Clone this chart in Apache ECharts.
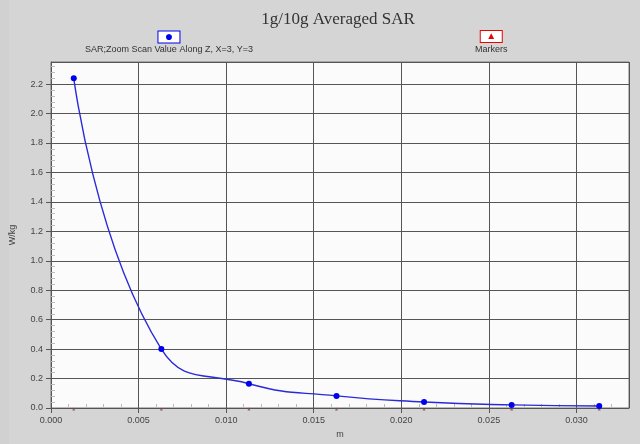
<!DOCTYPE html>
<html><head><meta charset="utf-8">
<style>html,body{margin:0;padding:0;background:#d5d5d5;}#c{width:640px;height:444px;}</style>
<script src="https://cdn.jsdelivr.net/npm/echarts@6/dist/echarts.min.js"></script>
</head><body><div id="c"></div>
<script>
const title = '1g/10g Averaged SAR';
const sarName = 'SAR;Zoom Scan Value Along Z, X=3, Y=3';
const markersName = 'Markers';
const depth = [0.0013, 0.0063, 0.0113, 0.0163, 0.0213, 0.0263, 0.0313];
const sarValues = [2.24, 0.40, 0.165, 0.082, 0.041, 0.021, 0.014];
const markerValues = [0, 0, 0, 0, 0, 0, 0];
const xTicks = [0.000, 0.005, 0.010, 0.015, 0.020, 0.025, 0.030];
const yTicks = [0.0, 0.2, 0.4, 0.6, 0.8, 1.0, 1.2, 1.4, 1.6, 1.8, 2.0, 2.2];
const xName = 'm';
const yName = 'W/kg';

const chart = echarts.init(document.getElementById('c'));
const lab = {fontFamily: 'Liberation Sans, Arial', fontSize: 9, color: '#444'};
function legendFmt(sym, col, size) {
  return {
    formatter: n => '{i|' + sym + '}\n{t|' + n + '}',
    textStyle: {rich: {
      i: {align: 'center', verticalAlign: 'middle', color: col, fontSize: size, width: 21, height: 11, lineHeight: 11,
          borderColor: col, borderWidth: 1, backgroundColor: '#fff', padding: [0, 0, 0, 0]},
      t: {align: 'center', fontFamily: 'Liberation Sans, Arial', fontSize: 9, color: '#333', lineHeight: 15}
    }}
  };
}
const xMin = xTicks[0], xMax = 0.033, yMin = yTicks[0], yMax = 2.35;
chart.setOption({
  backgroundColor: '#d5d5d5',
  animation: false,
  title: {text: title, left: 333, textAlign: 'center', top: 6,
    textStyle: {fontFamily: 'Liberation Serif, Times New Roman', fontSize: 17, fontWeight: 'normal', color: '#333'}},
  legend: [
    Object.assign({data: [sarName], left: 80, top: 30, icon: 'none', itemWidth: 0, itemGap: 0, padding: 0, selectedMode: false}, legendFmt('●', '#0000ee', 14)),
    Object.assign({data: [markersName], left: 470, top: 30, icon: 'none', itemWidth: 0, itemGap: 0, padding: 0, selectedMode: false}, legendFmt('▲', '#ee0000', 10))
  ],
  graphic: [{type: 'rect', left: 0, top: 0, shape: {width: 9, height: 444}, style: {fill: '#d1d1d1'}, z: -1}],
  grid: {left: 51, right: 11, top: 62, bottom: 36, show: true, backgroundColor: '#fbfbfb', borderColor: '#777', borderWidth: 1},
  xAxis: [{
    type: 'value', min: xMin, max: xMax, interval: 0.005,
    name: xName, nameLocation: 'middle', nameGap: 22, nameTextStyle: lab,
    axisLine: {show: true, onZero: false, lineStyle: {color: '#555'}},
    axisTick: {show: true, inside: false, length: 5, lineStyle: {color: '#555'}},
    axisLabel: Object.assign({margin: 8, showMaxLabel: false, formatter: v => v.toFixed(3)}, lab),
    splitLine: {show: true, lineStyle: {color: '#555', width: 1}}
  }, {
    type: 'value', min: xMin, max: xMax, interval: 0.005, position: 'bottom',
    axisLine: {show: false}, axisLabel: {show: false}, splitLine: {show: false},
    axisTick: {show: false, inside: true},
    minorTick: {show: true, splitNumber: 5, length: 4, lineStyle: {color: '#bbb'}}
  }],
  yAxis: [{
    type: 'value', min: yMin, max: yMax, interval: 0.2,
    name: yName, nameLocation: 'middle', nameGap: 34, nameRotate: 90, nameTextStyle: lab,
    axisLine: {show: true, onZero: false, lineStyle: {color: '#555'}},
    axisTick: {show: true, inside: false, length: 5, lineStyle: {color: '#555'}},
    axisLabel: Object.assign({margin: 8, showMaxLabel: false, formatter: v => v.toFixed(1)}, lab),
    splitLine: {show: true, lineStyle: {color: '#555', width: 1}}
  }, {
    type: 'value', min: yMin, max: yMax, interval: 0.2, position: 'left',
    axisLine: {show: false}, axisLabel: {show: false}, splitLine: {show: false},
    axisTick: {show: false, inside: true},
    minorTick: {show: true, splitNumber: 5, length: 4, lineStyle: {color: '#bbb'}}
  }],
  series: [{
    name: sarName, type: 'line', smooth: 0.5,
    data: depth.map((d, i) => [d, sarValues[i]]),
    symbol: 'circle', symbolSize: 6,
    lineStyle: {color: '#2a2ad8', width: 1.4},
    itemStyle: {color: '#0000ee'}
  }, {
    name: markersName, type: 'scatter',
    data: depth.map((d, i) => [d, markerValues[i]]),
    symbol: 'triangle', symbolSize: 3, symbolOffset: [0, 1],
    itemStyle: {color: '#884444'}
  }]
});
</script></body></html>
